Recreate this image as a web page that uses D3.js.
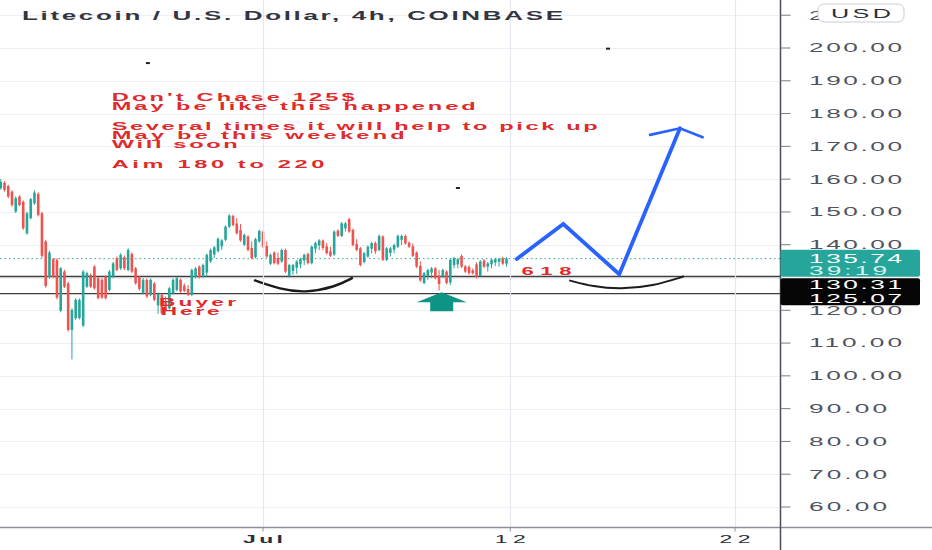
<!DOCTYPE html>
<html><head><meta charset="utf-8">
<script src="https://cdn.jsdelivr.net/npm/d3@7"></script>
<style>html,body{margin:0;padding:0;background:#fff;overflow:hidden}</style>
</head><body><svg id="c" width="932" height="550"></svg>
<script>
// ---------------- DATA ----------------
const refDate = Date.UTC(2021, 6, 1);          // Jul 1 2021
const firstBarOffsetBars = -70;                 // first candle = 70 bars (4h) before Jul 1
const barHours = 4;
const opens = [157.2,158.9,157.9,156.2,150.1,154.7,153.1,143.5,148.1,152.6,155.5,149.6,141.0,130.1,135.6,135.4,119.9,131.8,128.2,114.0,
117.6,117.6,115.3,127.2,130.8,133.3,129.8,129.3,130.3,126.2,130.3,135.9,132.8,136.2,132.3,137.2,132.8,130.1,125.2,129.3,
124.7,128.2,121.5,124.7,122.5,120.6,125.2,126.2,129.3,127.5,126.5,124.7,130.1,133.3,130.3,131.5,134.9,137.0,138.0,139.5,
141.5,145.5,148.8,146.5,144.5,140.0,142.5,139.0,136.2,141.0,144.0,139.6,134.2,137.6,136.0,134.9,138.4,130.5,132.0,133.0,
134.0,135.2,137.2,134.4,138.8,139.8,141.3,139.5,138.0,137.0,144.3,142.7,145.0,147.8,144.5,140.2,138.9,134.7,136.4,138.8,
140.5,138.4,142.5,135.4,137.5,138.5,139.4,141.5,142.7,140.6,139.5,137.6,133.5,128.3,130.5,131.5,132.8,130.5,130.3,131.8,
128.5,133.8,134.0,136.6,133.4,133.2,132.2,134.0,130.5,135.2,133.3,134.0,134.6,134.8,135.9,134.2];
const highs = [160.0,159.4,158.3,156.6,154.8,155.1,153.5,150.0,154.3,156.6,156.0,150.0,141.5,138.2,136.0,135.9,133.2,132.3,128.7,120.6,
123.7,123.6,132.3,131.8,131.2,133.8,130.2,129.8,130.7,132.3,134.8,136.4,137.4,136.7,138.9,137.7,133.2,130.5,129.8,129.7,
129.7,128.6,125.4,125.1,124.2,127.1,129.7,130.2,129.7,128.2,127.7,132.7,133.2,133.7,134.2,137.3,138.8,139.6,142.2,141.7,
145.9,149.3,149.2,148.1,146.3,143.4,142.9,141.0,142.1,144.6,144.4,141.0,137.3,138.0,137.6,138.8,138.8,134.2,134.2,135.3,
136.0,137.3,137.6,139.8,140.9,141.7,141.6,140.5,139.4,144.4,144.7,146.9,146.9,148.2,144.9,141.7,139.3,137.8,139.8,140.9,
141.0,143.1,142.9,139.3,139.3,140.3,143.1,143.1,143.1,141.0,140.4,138.0,134.9,131.7,132.7,133.2,133.2,132.3,132.7,132.2,
135.8,136.3,136.0,137.0,133.8,133.8,132.8,134.6,135.3,135.6,134.7,135.8,136.0,136.0,136.3,136.2];
const lows = [156.8,156.2,154.2,151.6,149.7,151.7,144.5,143.0,147.7,152.2,148.6,136.0,126.9,129.6,129.8,123.3,119.4,126.8,113.5,105.0,
117.1,117.2,114.9,126.8,126.8,126.3,123.3,123.4,123.3,125.8,129.8,131.9,132.3,132.3,131.9,131.3,127.8,126.0,124.8,123.8,
124.3,122.8,118.9,118.6,119.7,120.2,124.8,125.8,125.3,125.5,124.3,124.3,129.7,129.7,129.9,130.3,134.5,135.9,137.6,138.4,
141.1,145.1,145.6,143.1,140.9,139.6,138.0,135.5,135.8,140.6,139.0,136.0,133.8,134.0,133.8,134.5,131.4,130.0,130.8,131.1,
132.8,133.8,134.0,134.0,137.4,138.4,138.4,137.0,136.2,136.6,142.3,142.3,144.0,143.6,139.5,138.0,133.4,134.3,136.0,137.4,
137.2,138.0,135.0,135.0,136.4,137.4,139.0,139.9,140.0,139.0,136.2,132.9,128.7,128.0,129.3,129.8,129.4,126.0,129.9,127.9,
127.7,132.8,132.8,132.9,131.4,130.9,130.9,129.7,130.3,132.9,131.8,132.8,133.5,133.3,133.8,133.3];
const closes = [159.2,156.7,154.7,152.1,154.2,152.1,145.0,149.6,153.9,155.9,149.1,136.6,127.4,137.6,130.3,123.9,132.8,127.2,114.0,120.1,
123.2,123.2,131.8,131.3,127.2,126.7,123.7,123.9,123.7,131.8,134.3,132.3,136.9,132.8,138.4,131.8,128.2,126.5,129.3,124.2,
129.3,123.2,125.0,119.1,120.1,126.7,129.3,129.8,125.7,125.9,124.7,132.3,132.8,130.1,133.8,136.9,138.4,139.2,141.8,141.3,
145.5,148.9,146.0,143.5,141.3,143.0,138.4,135.9,141.7,144.2,139.4,136.4,136.9,134.4,134.2,138.4,131.8,133.8,133.8,134.9,
135.6,136.9,134.4,139.4,140.5,141.3,139.0,137.4,136.6,144.0,142.7,146.5,146.5,144.0,139.9,138.4,133.8,137.4,139.4,140.5,
138.0,142.7,135.4,138.9,138.9,139.9,142.7,142.7,140.4,139.4,136.6,133.3,129.1,131.3,132.3,132.8,129.8,128.0,132.3,128.3,
135.4,135.9,135.6,133.3,131.8,131.3,131.3,130.1,134.9,133.3,134.3,135.4,135.6,135.6,134.2,135.74];

const priceTicks = [210,200,190,180,170,160,150,140,130,120,110,100,90,80,70,60];
const hiddenPriceLabels = [130];
const timeTickDays = [0, 11, 21];
const timeTickLabels = ["Jul", "12", "22"];
const lastPrice = 135.74;
const countdown = "39:19";
const levelPrices = [130.31, 125.07];
const currency = "USD";
const title = "Litecoin / U.S. Dollar, 4h, COINBASE";

// projection drawing (days from Jul 1, price)
const projDays = [11.29, 13.36, 15.85, 18.55];
const projPrices = [135.67, 146.3, 131.0, 175.5];
const headDays = [17.22, 18.55, 19.56];
const headPrices = [173.5, 175.5, 172.8];
// black curved "cup" sketches
const arc1Days = [-0.36, 0.76, 1.87, 3.2, 3.96];
const arc1Prices = [129.1, 126.4, 125.3, 127.1, 129.8];
const arc2Days = [13.66, 14.69, 15.88, 17.36, 18.70];
const arc2Prices = [129.05, 127.2, 126.4, 127.4, 130.3];
// teal up arrow (tip)
const upArrowDay = 7.95, upArrowPrice = 125.5;
// stray dots
const dotDays = [-5.12, 15.35, 8.67];
const dotPrices = [195.4, 199.8, 157.3];

const notes = ["Don't Chase 125$", "May be like this happened", "Several times it will help to pick up",
  "May be this weekend", "Will soon", "Aim 180 to 220"];
const levelNote = "618";
const buyerNote = ["Buyer", "Here"];

// ---------------- LAYOUT ----------------
const W = 932, H = 550, plotR = 780.5, plotB = 527.5;
const DAY = 864e5;
const dayToDate = d => new Date(refDate + d * DAY);
const x = d3.scaleUtc().domain([dayToDate(-11.70), dayToDate(23.0)]).range([0, 780]);
const y = d3.scaleLinear().domain([60, 200]).range([507, 48]);
const C = { up: "#26a69a", down: "#ef5350", grid: "#eceff5", red: "#de2b2b", blue: "#2962ff", text: "#2a2e39" };
const FONT = "'Liberation Sans', Arial, sans-serif";

const svg = d3.select("#c");
svg.append("rect").attr("width", W).attr("height", H).attr("fill", "#fff");
const defs = svg.append("defs");
defs.append("clipPath").attr("id", "plot").append("rect").attr("x", 0).attr("y", 0).attr("width", plotR).attr("height", plotB);

function stext(parent, str, px, py, width, o) {
  const sx = o.sx || 1.9;
  return parent.append("text")
    .attr("transform", `translate(${px},${py}) scale(${sx},1)`)
    .attr("font-family", o.family || FONT)
    .attr("font-size", o.size)
    .attr("font-weight", o.weight || "normal")
    .attr("fill", o.fill)
    .attr("text-anchor", o.anchor || "start")
    .attr("textLength", width / sx)
    .attr("lengthAdjust", "spacing")
    .text(str);
}

const plot = svg.append("g").attr("clip-path", "url(#plot)");

// grid
plot.append("g").selectAll("line").data(priceTicks).join("line")
  .attr("x1", 0).attr("x2", plotR).attr("y1", d => Math.round(y(d)) + 0.5).attr("y2", d => Math.round(y(d)) + 0.5)
  .attr("stroke", C.grid).attr("stroke-width", 1);
svg.append("g").selectAll("line").data(timeTickDays).join("line")
  .attr("x1", d => Math.round(x(dayToDate(d))) + 0.5).attr("x2", d => Math.round(x(dayToDate(d))) + 0.5)
  .attr("y1", 0).attr("y2", plotB).attr("stroke", "#e3e7ef").attr("stroke-width", 1.2);

// horizontal levels
plot.append("g").selectAll("line").data(levelPrices).join("line")
  .attr("x1", 0).attr("x2", plotR).attr("y1", d => y(d)).attr("y2", d => y(d))
  .attr("stroke", "#3d3d3d").attr("stroke-width", 1.3);
// last price dotted
plot.append("line").attr("x1", 0).attr("x2", plotR).attr("y1", y(lastPrice)).attr("y2", y(lastPrice))
  .attr("stroke", C.up).attr("stroke-width", 1).attr("stroke-dasharray", "1.5,3");

// candles
const bars = closes.map((c, i) => ({
  t: new Date(refDate + (firstBarOffsetBars + i) * barHours * 36e5),
  o: opens[i], h: highs[i], l: lows[i], c
}));
const cg = plot.append("g");
cg.selectAll("line").data(bars).join("line")
  .attr("x1", d => x(d.t)).attr("x2", d => x(d.t)).attr("y1", d => y(d.h)).attr("y2", d => y(d.l))
  .attr("stroke", d => d.c >= d.o ? C.up : C.down).attr("stroke-width", 1);
cg.selectAll("rect").data(bars).join("rect")
  .attr("x", d => x(d.t) - 1.3).attr("width", 2.6)
  .attr("y", d => y(Math.max(d.o, d.c)))
  .attr("height", d => Math.max(1, Math.abs(y(d.o) - y(d.c))))
  .attr("fill", d => d.c >= d.o ? C.up : C.down);

// black arcs
const arcLine = d3.line().x(d => x(dayToDate(d[0]))).y(d => y(d[1])).curve(d3.curveBasis);
[[arc1Days, arc1Prices, 2.4], [arc2Days, arc2Prices, 2]].forEach(([ds, ps, w]) => {
  plot.append("path").attr("d", arcLine(ds.map((d, i) => [d, ps[i]])))
    .attr("fill", "none").attr("stroke", "#1b1b1b").attr("stroke-width", w).attr("stroke-linecap", "round");
});

// blue projection
const pLine = d3.line().x(d => x(dayToDate(d[0]))).y(d => y(d[1]));
plot.append("path").attr("d", pLine(projDays.map((d, i) => [d, projPrices[i]])))
  .attr("fill", "none").attr("stroke", C.blue).attr("stroke-width", 3.8).attr("stroke-linejoin", "miter").attr("stroke-linecap", "round");
plot.append("path").attr("d", pLine(headDays.map((d, i) => [d, headPrices[i]])))
  .attr("fill", "none").attr("stroke", C.blue).attr("stroke-width", 2.6).attr("stroke-linejoin", "miter").attr("stroke-linecap", "round");

// teal up arrow
{
  const ax = x(dayToDate(upArrowDay)), ay = y(upArrowPrice);
  plot.append("path").attr("d",
    `M${ax},${ay} L${ax + 25},${ay + 10} L${ax + 11.5},${ay + 10} L${ax + 11.5},${ay + 19} L${ax - 11.5},${ay + 19} L${ax - 11.5},${ay + 10} L${ax - 25},${ay + 10} Z`)
    .attr("fill", "#0e9484");
}

// stray dots
plot.append("g").selectAll("rect").data(dotDays.map((d, i) => [d, dotPrices[i]])).join("rect")
  .attr("x", d => x(dayToDate(d[0])) - 2).attr("y", d => y(d[1]) - 1).attr("width", 4).attr("height", 2).attr("fill", "#222");

// annotations
const noteLayout = [[111.7, 100.5, 243], [111.7, 110.4, 364], [111.7, 130.3, 486], [111.7, 139.4, 293], [111.7, 148.4, 126], [111.7, 168.3, 212.6]];
notes.forEach((s, i) => stext(svg, s, noteLayout[i][0], noteLayout[i][1], noteLayout[i][2], { size: 11.8, weight: "bold", fill: C.red, sx: 2.0 }));
stext(svg, levelNote, x(dayToDate(11.5)), y(levelPrices[0]) - 1.5, 50, { size: 11, weight: "bold", fill: C.red, sx: 2.0 });
stext(svg, buyerNote[0], 159, 306, 77, { size: 10.8, weight: "bold", fill: C.red, sx: 2.1 });
stext(svg, buyerNote[1], 160.7, 314.8, 59, { size: 10.8, weight: "bold", fill: C.red, sx: 2.1 });

// title
stext(svg, title, 22, 20, 541, { size: 13, weight: "bold", fill: "#333640", sx: 2.0 });

// axes lines
svg.append("line").attr("x1", 0).attr("x2", W).attr("y1", plotB).attr("y2", plotB).attr("stroke", "#8e9199").attr("stroke-width", 1.3);
svg.append("line").attr("x1", plotR).attr("x2", plotR).attr("y1", 0).attr("y2", H).attr("stroke", "#4a4d57").attr("stroke-width", 1.5);

// price axis ticks & labels
const pa = svg.append("g");
priceTicks.filter(p => !hiddenPriceLabels.includes(p)).forEach(p => {
  pa.append("line").attr("x1", plotR).attr("x2", plotR + 10).attr("y1", y(p)).attr("y2", y(p)).attr("stroke", "#787b86").attr("stroke-width", 1);
  const s = p.toFixed(2);
  stext(pa, s, 809, y(p) + 4.4, s.length === 6 ? 93 : 78, { size: 12.5, fill: "#50535e", sx: 2.1 });
});
// time ticks & labels
timeTickDays.forEach((d, i) => {
  const tx = x(dayToDate(d));
  svg.append("line").attr("x1", tx).attr("x2", tx).attr("y1", plotB).attr("y2", plotB + 4).attr("stroke", "#8e9199");
  stext(svg, timeTickLabels[i], tx, 543.3, i === 0 ? 40 : 31, { size: 11.5, weight: i === 0 ? "bold" : "normal", fill: C.text, anchor: "middle", sx: 2.0 });
});

// USD badge
svg.append("rect").attr("x", 818).attr("y", 4).attr("width", 86).attr("height", 18).attr("rx", 6)
  .attr("fill", "#fff").attr("stroke", "#c9ccd3").attr("stroke-width", 1);
stext(svg, currency, 861, 18, 60, { size: 12, fill: C.text, anchor: "middle", sx: 2.1 });

// last price box
const ly = y(lastPrice);
svg.append("rect").attr("x", plotR).attr("y", ly - 9).attr("width", 139.5).attr("height", 27).attr("rx", 2).attr("fill", "#26a69a");
stext(svg, lastPrice.toFixed(2), 809, ly + 4.5, 93, { size: 12.5, fill: "#fff", sx: 2.1 });
stext(svg, countdown, 809, ly + 16, 78, { size: 12.5, fill: "#d8f3ee", sx: 2.1 });
// level boxes
svg.append("rect").attr("x", plotR).attr("y", ly + 19.5).attr("width", 139.5).attr("height", 27).attr("rx", 2).attr("fill", "#050505");
stext(svg, levelPrices[0].toFixed(2), 809, ly + 30.5, 93, { size: 12.5, fill: "#fff", sx: 2.1 });
stext(svg, levelPrices[1].toFixed(2), 809, ly + 44.5, 93, { size: 12.5, fill: "#fff", sx: 2.1 });
</script></body></html>
